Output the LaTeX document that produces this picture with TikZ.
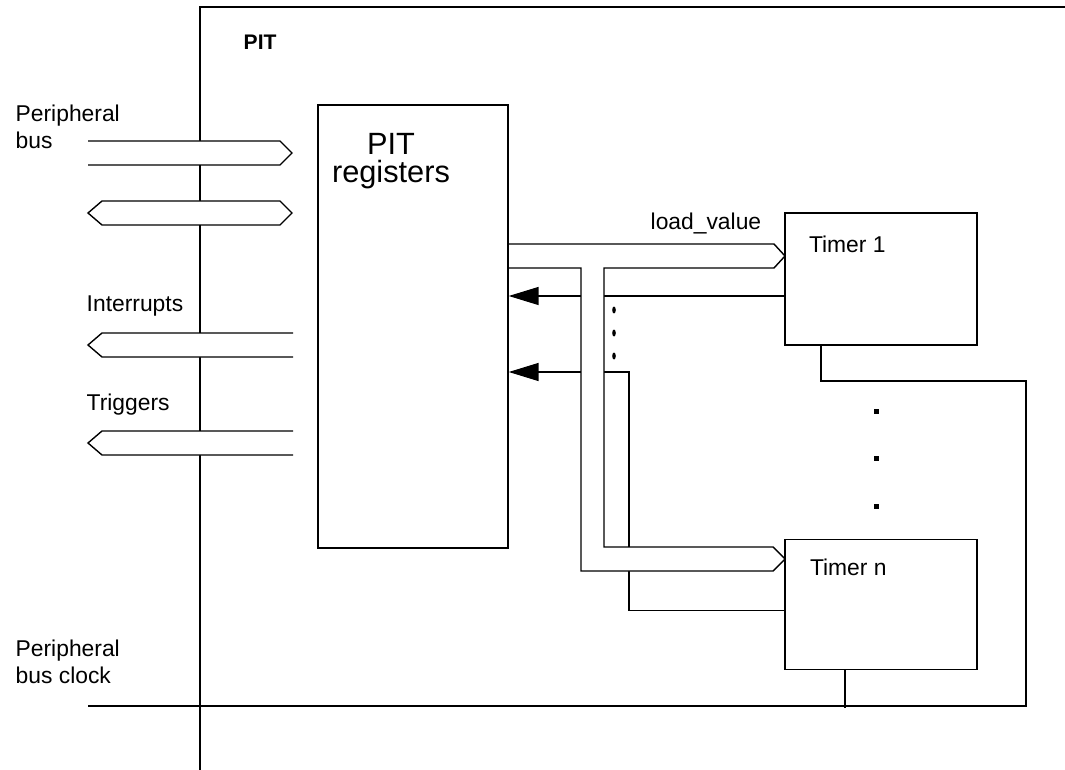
\documentclass[tikz,border=0pt]{standalone}
\usepackage{fontspec}
\setmainfont{Liberation Sans}
\usetikzlibrary{positioning,arrows.meta}

\begin{document}
\begin{tikzpicture}[
    x=0.02cm, y=-0.02cm,
    line width=0.8pt,
    every node/.style={align=left, inner sep=0pt},
    block/.style={
        draw,
        minimum width=3.84cm
    },
    txt/.style={font=\fontsize{13}{15.3}\selectfont},
    bus/.style={draw, fill=white, line join=miter},
    arrow/.style={
        -{Triangle[length=6mm, width=3.6mm]}
    }
]
\useasboundingbox (0,0) rectangle (1065,770);

% PIT boundary
\draw (200,770) -- (200,7) -- (1065,7);
\node[font=\bfseries\fontsize{12}{14}\selectfont, anchor=base west] (pit) at (243,50) {PIT};

\node[block, minimum width=3.8cm, minimum height=8.86cm] (regs) at (413,326.5) {};
\node[font=\fontsize{17.5}{16}\selectfont, align=center, anchor=north] (regslbl) at (391,133) {PIT\\registers};

\node[block, minimum height=2.64cm] (t1) at (881,279) {};
\node[block, minimum height=2.6cm, below=3.86cm of t1] (tn) {};
\node[txt, below right=0.46cm and 0.48cm of t1.north west] (t1lbl) {Timer 1};
\node[txt, below right=0.4cm and 0.5cm of tn.north west] (tnlbl) {Timer n};

% timer outputs back to the registers
\coordinate (ret1) at ([yshift=-0.34cm]t1.west);
\coordinate (tap) at (629,372);
\draw[arrow] (ret1) -- (regs.east |- ret1);
\draw[arrow] ([yshift=-0.12cm]tn.west) -| (tap) -- (regs.east |- tap);

% clock
\coordinate (clkin) at (88,706);
\coordinate (clkend) at (1026,706);
\coordinate (clkup) at (1026,381);
\draw (clkin) -- (clkend) -- (clkup) -| ([xshift=-1.2cm]t1.south);
\draw ([xshift=-0.72cm]tn.south) -- ++(0,38);

% buses
\draw[bus] (88,141) -- (280,141) -- (292,153) -- (280,165) -- (88,165);
\draw[bus] (88,213) -- (102,201) -- (280,201) -- (292,213) -- (280,225) -- (102,225) -- cycle;
\draw[bus] (293,333) -- (102,333) -- (88,345) -- (102,357) -- (293,357);
\draw[bus] (293,431) -- (102,431) -- (88,443) -- (102,455) -- (293,455);
\draw[bus] (509,244) -- (774,244) -- (785,256) -- (774,268) -- (604,268)
    -- (604,547) -- (773,547) -- (785,559) -- (773,571) -- (581,571)
    -- (581,268) -- (509,268);

\foreach \y in {310,333,356}
    \fill (614,\y) ellipse [x radius=0.036cm, y radius=0.07cm];
\foreach \y in {408.5,455.5,503.5}
    \fill (873.5,\y) rectangle ++(5,5);

\node[txt, anchor=north west] (busl) at (15,104) {Peripheral\\bus};
\node[txt, anchor=north west] (clkl) at (15,639) {Peripheral\\bus clock};
\node[txt, anchor=base west] (intl) at (86,312) {Interrupts};
\node[txt, anchor=base west] (trgl) at (86,410) {Triggers};
\node[txt, anchor=base west] (ldl) at (650,230) {load\_value};

\end{tikzpicture}
\end{document}
